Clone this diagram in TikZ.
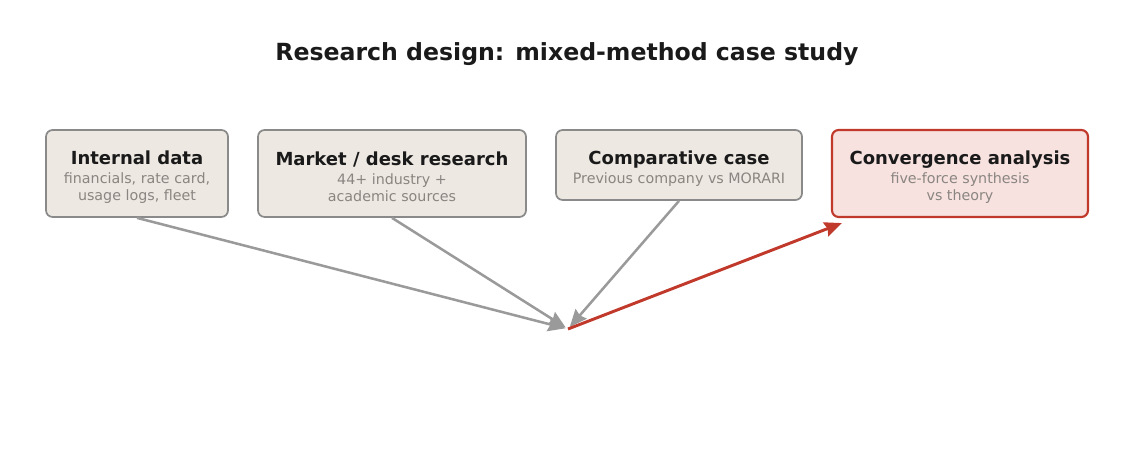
\documentclass[tikz,border=0pt]{standalone}
\usepackage{fontspec}
\setmainfont{DejaVu Sans}
\usepackage{tikz}
\usetikzlibrary{arrows.meta,calc}

\definecolor{boxfill}{HTML}{EDE8E2}
\definecolor{boxline}{HTML}{8A8A8A}
\definecolor{arrgray}{HTML}{9A9A9A}
\definecolor{accent}{HTML}{C0392B}
\definecolor{accentfill}{HTML}{F7E2E0}
\definecolor{ink}{HTML}{1A1A1A}
\definecolor{subink}{HTML}{8A8580}

\newcommand{\boxtxt}[2]{{\fontsize{13.5}{15}\selectfont\bfseries\color{ink}\rule{0pt}{15pt}#1}\\[1.5pt]#2}

\begin{document}
\begin{tikzpicture}[x=0.75pt,y=-0.75pt,
    src/.style={draw=boxline,fill=boxfill,line width=1.3pt,rounded corners=5pt,align=center,inner sep=0pt,
        text=subink,font=\fontsize{10.7}{12.75}\selectfont},
    conv/.style={src,draw=accent,fill=accentfill,line width=1.6pt},
    feed/.style={draw=arrgray,line width=1.9pt,-{Stealth[length=13pt,width=11pt,inset=1.5pt]},shorten >=2pt},
    synth/.style={draw=accent,line width=2.2pt,-{Stealth[length=13pt,width=11pt,inset=1.5pt]}}]
            \useasboundingbox (0,0) rectangle (1134,463);
            \node[font=\fontsize{17.7}{20}\selectfont\bfseries,text=ink] (TITLE) at (567,54) {Research design: mixed-method case study};

            \node[src,minimum width=136.5pt,minimum height=65.25pt] (INT) at (137,173.5) {\boxtxt{Internal data}{financials, rate card,\\usage logs, fleet}};
            \node[src,minimum width=201pt,minimum height=65.25pt] (MKT) at (392,173.5) {\boxtxt{Market / desk research}{44+ industry +\\academic sources}};
            \node[src,minimum width=184.5pt,minimum height=52.5pt] (CMP) at (679,165) {\boxtxt{Comparative case}{Previous company vs MORARI}};
            \node[conv,minimum width=192pt,minimum height=65.25pt] (CONV) at (960,173.5) {\boxtxt{Convergence analysis}{five-force synthesis\\vs theory}};

            \coordinate (HUB) at (568,329);

            \draw[feed] (INT.south) -- (HUB);
            \draw[feed] (MKT.south) -- (HUB);
            \draw[feed] (CMP.south) -- (HUB);
            \draw[synth] (HUB) -- ([shift={(11,5)}]CONV.south west);
        \end{tikzpicture}
\end{document}
